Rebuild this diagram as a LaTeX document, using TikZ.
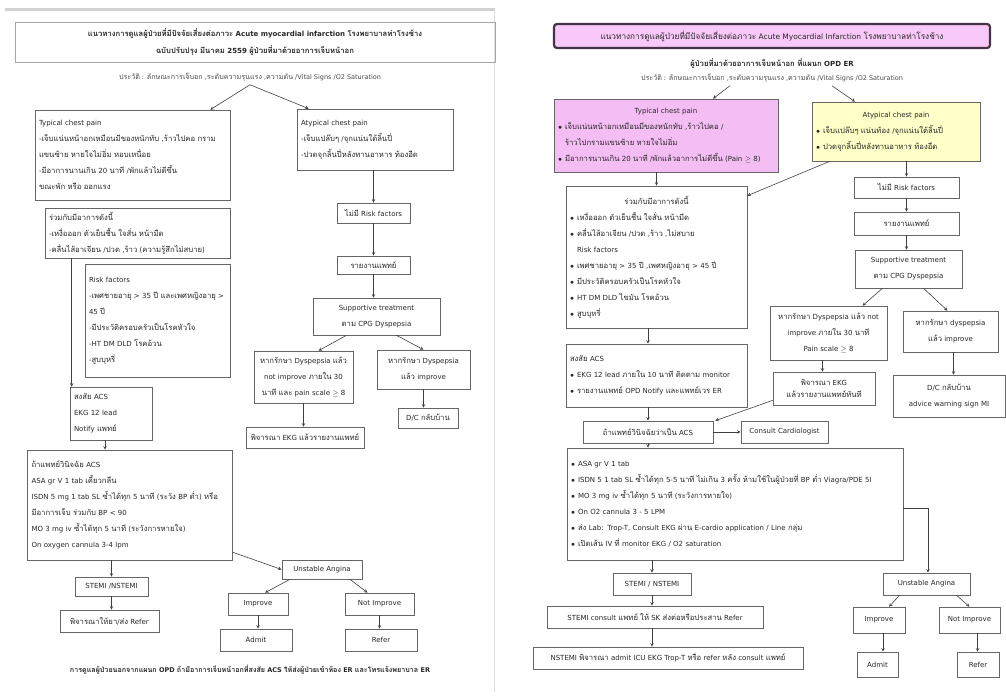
\documentclass[tikz,border=0pt]{standalone}
\usepackage{fontspec}
\setmainfont{DejaVu Sans}
\newfontfamily\thaifont[Script=Thai,Scale=1.1]{Loma}
\XeTeXinterchartokenstate=1
\newXeTeXintercharclass\thaiclass
\newcount\thaicode
\thaicode="0E00
\loop
  \XeTeXcharclass\thaicode=\thaiclass
  \ifnum\thaicode<"0E7F \advance\thaicode by 1 \repeat
\XeTeXinterchartoks 0 \thaiclass = {\thaifont}
\XeTeXinterchartoks 4095 \thaiclass = {\thaifont}
\XeTeXinterchartoks \thaiclass 0 = {\rmfamily}
\XeTeXinterchartoks \thaiclass 4095 = {\rmfamily}
\usetikzlibrary{calc}
\definecolor{titlepink}{RGB}{248,200,248}
\definecolor{typpink}{RGB}{244,190,244}
\definecolor{atypyellow}{RGB}{255,255,200}
\definecolor{titleedge}{RGB}{70,50,70}
\newcommand{\bul}{\makebox[7pt][l]{$\bullet$}}
\newcommand{\ctr}[1]{\makebox[\hsize]{#1}}
\begin{document}
\begin{tikzpicture}[x=1pt,y=-1pt,
    box/.style={draw=black!60,line width=.6pt,inner xsep=4pt,inner ysep=2pt,text=black!85,font=\fontsize{7}{16}\selectfont},
    lbox/.style={box,align=left},
    cbox/.style={box,align=center},
    arr/.style={->,-stealth,black!75,line width=.6pt}]

    \useasboundingbox (0,0) rectangle (1006,696);
    \draw[gray!35,line width=3pt] (5,9)--(495,9);
    \draw[gray!25] (494,10)--(494,692);

    \node[draw=black!35,line width=1pt,minimum width=480pt,minimum height=40pt,align=center,text=black!85,font=\fontsize{7}{17}\selectfont\bfseries] (ltitle) at (255,42)
        {แนวทางการดูแลผู้ป่วยที่มีปัจจัยเสี่ยงต่อภาวะ Acute myocardial infarction โรงพยาบาลท่าโรงช้าง\\ฉบับปรับปรุง มีนาคม 2559 ผู้ป่วยที่มาด้วยอาการเจ็บหน้าอก};
    \node[text=black!70,font=\fontsize{6.5}{8}\selectfont] (lsub) at (250,77) {ประวัติ : ลักษณะการเจ็บอก ,ระดับความรุนแรง ,ความดัน /Vital Signs /O2 Saturation};

    \node[lbox,text width=187pt,minimum height=90pt] (ltyp) at (132.5,155)
        {Typical chest pain\\-เจ็บแน่นหน้าอกเหมือนมีของหนักทับ ,ร้าวไปคอ กราม\\แขนซ้าย หายใจไม่อิ่ม หอบเหนื่อย\\-มีอาการนานเกิน 20 นาที /พักแล้วไม่ดีขึ้น\\ขณะพัก หรือ ออกแรง};
    \node[lbox,text width=148pt,minimum height=61pt] (latyp) at (375,139.5)
        {Atypical chest pain\\-เจ็บแปล๊บๆ /จุกแน่นใต้ลิ้นปี่\\-ปวดจุกลิ้นปี่หลังทานอาหาร ท้องอืด};
    \node[lbox,text width=177pt,minimum height=50pt] (lsym) at (137.5,233)
        {ร่วมกับมีอาการดังนี้\\-เหงื่อออก ตัวเย็นชื้น ใจสั่น หน้ามืด\\-คลื่นไส้อาเจียน /ปวด ,ร้าว (ความรู้สึกไม่สบาย)};
    \node[lbox,text width=137pt,minimum height=113pt] (lrisk) at (157.5,320.5)
        {Risk factors\\-เพศชายอายุ > 35 ปี และเพศหญิงอายุ >\\45 ปี\\-มีประวัติครอบครัวเป็นโรคหัวใจ\\-HT DM DLD โรคอ้วน\\-สูบบุหรี่};
    \node[lbox,text width=74pt,minimum height=53pt] (lacs) at (111,413.5)
        {สงสัย ACS\\EKG 12 lead\\Notify แพทย์};
    \node[lbox,text width=197pt,minimum height=110pt] (ldx) at (130,505)
        {ถ้าแพทย์วินิจฉัย ACS\\ASA gr V 1 tab เคี้ยวกลืน\\ISDN 5 mg 1 tab SL ซ้ำได้ทุก 5 นาที (ระวัง BP ต่ำ) หรือ\\มีอาการเจ็บ ร่วมกับ BP < 90\\MO 3 mg iv ซ้ำได้ทุก 5 นาที (ระวังการหายใจ)\\On oxygen cannula 3-4 lpm};

    \node[cbox,minimum width=73pt,minimum height=20pt] (lnorisk) at (373.5,213) {ไม่มี Risk factors};
    \node[cbox,minimum width=73pt,minimum height=18pt] (lreport) at (373.5,265) {รายงานแพทย์};
    \node[cbox,minimum width=127pt,minimum height=37pt] (lsupp) at (376.5,316.5) {Supportive treatment\\ตาม CPG Dyspepsia};
    \node[cbox,minimum width=99pt,minimum height=52pt] (lnotimp) at (303.5,377) {หากรักษา Dyspepsia แล้ว\\not improve ภายใน 30\\นาที และ pain scale $\geq$ 8};
    \node[cbox,minimum width=93pt,minimum height=39pt] (limp) at (423.5,369.5) {หากรักษา Dyspepsia\\แล้ว improve};
    \node[cbox,minimum width=118pt,minimum height=21pt] (lekg) at (305,437.5) {พิจารณา EKG แล้วรายงานแพทย์};
    \node[cbox,minimum width=60pt,minimum height=20pt] (ldc) at (428,418) {D/C กลับบ้าน};

    \node[cbox,minimum width=80pt,minimum height=19pt] (lua) at (322,569.5) {Unstable Angina};
    \node[cbox,minimum width=73pt,minimum height=19pt] (lstemi) at (111.5,586.5) {STEMI /NSTEMI};
    \node[cbox,minimum width=99pt,minimum height=22pt] (lrefer1) at (109.5,621) {พิจารณาให้ยา/ส่ง Refer};
    \node[cbox,minimum width=60pt,minimum height=22pt] (limpr) at (258,604) {Improve};
    \node[cbox,minimum width=69pt,minimum height=22pt] (lnimpr) at (379.5,604) {Not Improve};
    \node[cbox,minimum width=72pt,minimum height=22pt] (ladmit) at (256,640) {Admit};
    \node[cbox,minimum width=72pt,minimum height=22pt] (lrefer2) at (381,640) {Refer};
    \node[text=black!85,font=\fontsize{6.5}{8}\selectfont\bfseries] (lfoot) at (250,670) {การดูแลผู้ป่วยนอกจากแผนก OPD ถ้ามีอาการเจ็บหน้าอกที่สงสัย ACS ให้ส่งผู้ป่วยเข้าห้อง ER และโทรแจ้งพยาบาล ER};

    \draw[arr] (lsub.south)--([xshift=-20pt]ltyp.north east);
    \draw[arr] (lsub.south)--([xshift=12pt]latyp.north west);
    \draw[arr] (lnorisk.north |- latyp.south)--(lnorisk.north);
    \draw[arr] (lnorisk)--(lreport);
    \draw[arr] (lreport.south)--(lreport.south |- lsupp.north);
    \draw[arr] ([xshift=-30pt]lsupp.south)--([xshift=15pt]lnotimp.north);
    \draw[arr] ([xshift=20pt]lsupp.south)--(limp.north);
    \draw[arr] (lnotimp.south)--(lnotimp.south |- lekg.north);
    \draw[arr] (limp.south)--(limp.south |- ldc.north);
    \draw[arr] ([xshift=27pt]lsym.south west)--([xshift=2pt]lacs.north west);
    \draw[arr] ([xshift=-6pt]lacs.south)--([xshift=-6pt]lacs.south |- ldx.north);
    \draw[arr] (lstemi.north |- ldx.south)--(lstemi.north);
    \draw[arr] (lstemi.south)--(lstemi.south |- lrefer1.north);
    \draw[arr] ([yshift=8pt]ldx.south east)--(lua.west);
    \draw[arr] ([xshift=-32pt]lua.south)--([xshift=7pt]limpr.north);
    \draw[arr] ([xshift=28pt]lua.south)--([xshift=-12pt]lnimpr.north);
    \draw[arr] (limpr.south)--(limpr.south |- ladmit.north);
    \draw[arr] (lnimpr.south)--(lnimpr.south |- lrefer2.north);

    \node[draw=titleedge,line width=2.2pt,rounded corners=3pt,fill=titlepink,minimum width=436pt,minimum height=24pt,text=black!85,font=\fontsize{7.5}{8}\selectfont] (rtitle) at (772,36)
        {แนวทางการดูแลผู้ป่วยที่มีปัจจัยเสี่ยงต่อภาวะ Acute Myocardial Infarction โรงพยาบาลท่าโรงช้าง};
    \node[text=black!85,font=\fontsize{7}{8}\selectfont\bfseries] (rsub1) at (772,63) {ผู้ป่วยที่มาด้วยอาการเจ็บหน้าอก ที่แผนก OPD ER};
    \node[text=black!70,font=\fontsize{6.5}{8}\selectfont] (rsub2) at (772,78) {ประวัติ : ลักษณะการเจ็บอก ,ระดับความรุนแรง ,ความดัน /Vital Signs /O2 Saturation};

    \node[lbox,fill=typpink,text width=216pt,minimum height=73pt] (rtyp) at (666,135.5)
        {\ctr{Typical chest pain}\\\bul เจ็บแน่นหน้าอกเหมือนมีของหนักทับ ,ร้าวไปคอ /\\\hspace*{7pt}ร้าวไปกรามแขนซ้าย หายใจไม่อิ่ม\\\bul มีอาการนานเกิน 20 นาที /พักแล้วอาการไม่ดีขึ้น (Pain $\geq$ 8)};
    \node[lbox,fill=atypyellow,text width=160pt,minimum height=59pt] (ratyp) at (896,131.5)
        {\ctr{Atypical chest pain}\\\bul เจ็บแปล๊บๆ แน่นท้อง /จุกแน่นใต้ลิ้นปี่\\\bul ปวดจุกลิ้นปี่หลังทานอาหาร ท้องอืด};
    \node[lbox,text width=173pt,minimum height=142pt] (rsym) at (656.5,257)
        {\ctr{ร่วมกับมีอาการดังนี้}\\\bul เหงื่อออก ตัวเย็นชื้น ใจสั่น หน้ามืด\\\bul คลื่นไส้อาเจียน /ปวด ,ร้าว ,ไม่สบาย\\\hspace*{7pt}Risk factors\\\bul เพศชายอายุ > 35 ปี ,เพศหญิงอายุ > 45 ปี\\\bul มีประวัติครอบครัวเป็นโรคหัวใจ\\\bul HT DM DLD ไขมัน โรคอ้วน\\\bul สูบบุหรี่};
    \node[lbox,text width=173pt,minimum height=63pt] (racs) at (656.5,375.5)
        {สงสัย ACS\\\bul EKG 12 lead ภายใน 10 นาที ติดตาม monitor\\\bul รายงานแพทย์ OPD Notify และแพทย์เวร ER};
    \node[cbox,minimum width=130pt,minimum height=22pt] (rdx) at (648,432) {ถ้าแพทย์วินิจฉัยว่าเป็น ACS};
    \node[cbox,minimum width=87pt,minimum height=22pt] (rcard) at (784.5,432) {Consult Cardiologist};
    \node[lbox,text width=328pt,minimum height=112pt] (rtreat) at (735,504)
        {\bul ASA gr V 1 tab\\\bul ISDN 5 1 tab SL ซ้ำได้ทุก 5-5 นาที ไม่เกิน 3 ครั้ง ห้ามใช้ในผู้ป่วยที่ BP ต่ำ Viagra/PDE 5I\\\bul MO 3 mg iv ซ้ำได้ทุก 5 นาที (ระวังการหายใจ)\\\bul On O2 cannula 3 - 5 LPM\\\bul ส่ง Lab: Trop-T, Consult EKG ผ่าน E-cardio application / Line กลุ่ม\\\bul เปิดเส้น IV ที่ monitor EKG / O2 saturation};

    \node[cbox,minimum width=105pt,minimum height=21pt] (rnorisk) at (906.5,187.5) {ไม่มี Risk factors};
    \node[cbox,minimum width=105pt,minimum height=23pt] (rreport) at (906.5,223.5) {รายงานแพทย์};
    \node[cbox,minimum width=107pt,minimum height=38pt] (rsupp) at (908.5,269) {Supportive treatment\\ตาม CPG Dyspepsia};
    \node[cbox,minimum width=117pt,minimum height=54pt] (rnotimp) at (828.5,333) {หากรักษา Dyspepsia แล้ว not\\improve ภายใน 30 นาที\\Pain scale $\geq$ 8};
    \node[cbox,minimum width=95pt,minimum height=41pt] (rimp) at (950.5,331.5) {หากรักษา dyspepsia\\แล้ว improve};
    \node[cbox,minimum width=102pt,minimum height=33pt,font=\fontsize{7}{12}\selectfont] (rekg) at (824,388.5) {พิจารณา EKG\\แล้วรายงานแพทย์ทันที};
    \node[cbox,minimum width=112pt,minimum height=42pt] (rdc) at (949,396) {D/C กลับบ้าน\\advice warning sign MI};

    \node[cbox,minimum width=78pt,minimum height=22pt] (rstemi) at (652,584) {STEMI / NSTEMI};
    \node[cbox,minimum width=216pt,minimum height=22pt] (rstemi2) at (655,617) {STEMI consult แพทย์ ให้ SK ส่งต่อหรือประสาน Refer};
    \node[cbox,minimum width=270pt,minimum height=22pt] (rnstemi) at (668,658) {NSTEMI พิจารณา admit ICU EKG Trop-T หรือ refer หลัง consult แพทย์};
    \node[cbox,minimum width=87pt,minimum height=22pt] (rua) at (926.5,584) {Unstable Angina};
    \node[cbox,minimum width=52pt,minimum height=26pt] (rimpr) at (879,620) {Improve};
    \node[cbox,minimum width=61pt,minimum height=26pt] (rnimpr) at (969.5,620) {Not Improve};
    \node[cbox,minimum width=41pt,minimum height=25pt] (radmit) at (877.5,664.5) {Admit};
    \node[cbox,minimum width=42pt,minimum height=25pt] (rrefer) at (978,664.5) {Refer};

    \draw[arr] ([xshift=-42pt]rsub2.south)--([xshift=47pt]rtyp.north);
    \draw[arr] ([xshift=60pt]rsub2.south)--([xshift=-41pt]ratyp.north);
    \draw[arr] (rsym.north |- rtyp.south)--(rsym.north);
    \draw[arr] ([xshift=18pt]ratyp.south west)--([yshift=-10pt]rsym.north east);
    \draw[arr] (rnorisk.north |- ratyp.south)--(rnorisk.north);
    \draw[arr] (rnorisk)--(rreport);
    \draw[arr] (rreport.south)--(rreport.south |- rsupp.north);
    \draw[arr] ([xshift=-26pt]rsupp.south)--([xshift=34pt]rnotimp.north);
    \draw[arr] ([xshift=15pt]rsupp.south)--([xshift=-3pt]rimp.north);
    \draw[arr] ([xshift=-6pt]rnotimp.south)--([xshift=-6pt]rnotimp.south |- rekg.north);
    \draw[arr] ([xshift=3pt]rimp.south)--([xshift=3pt]rimp.south |- rdc.north);
    \draw[arr] ([yshift=5pt]rekg.south west)--([xshift=2pt]rdx.north east);
    \draw[arr] (rdx.north |- rsym.south)--(rdx.north |- racs.north);
    \draw[arr] (rdx.north |- racs.south)--(rdx.north);
    \draw[arr] (rdx)--(rcard);
    \draw[arr] (rdx.south)--(rdx.south |- rtreat.north);
    \draw[arr] (rstemi.north |- rtreat.south)--(rstemi.north);
    \draw[arr] (rstemi.south)--(rstemi.south |- rstemi2.north);
    \draw[arr] (rstemi.south |- rstemi2.south)--(rstemi.south |- rnstemi.north);
    \draw[arr] ([yshift=-4pt]rtreat.east)-|([xshift=1.5pt]rua.north);
    \draw[arr] ([xshift=-27pt]rua.south)--([xshift=10pt]rimpr.north);
    \draw[arr] ([xshift=30pt]rua.south)--(rnimpr.north);
    \draw[arr] ([xshift=4pt]rimpr.south)--([xshift=4pt]rimpr.south |- radmit.north);
    \draw[arr] ([xshift=8pt]rnimpr.south)--([xshift=8pt]rnimpr.south |- rrefer.north);
\end{tikzpicture}
\end{document}
